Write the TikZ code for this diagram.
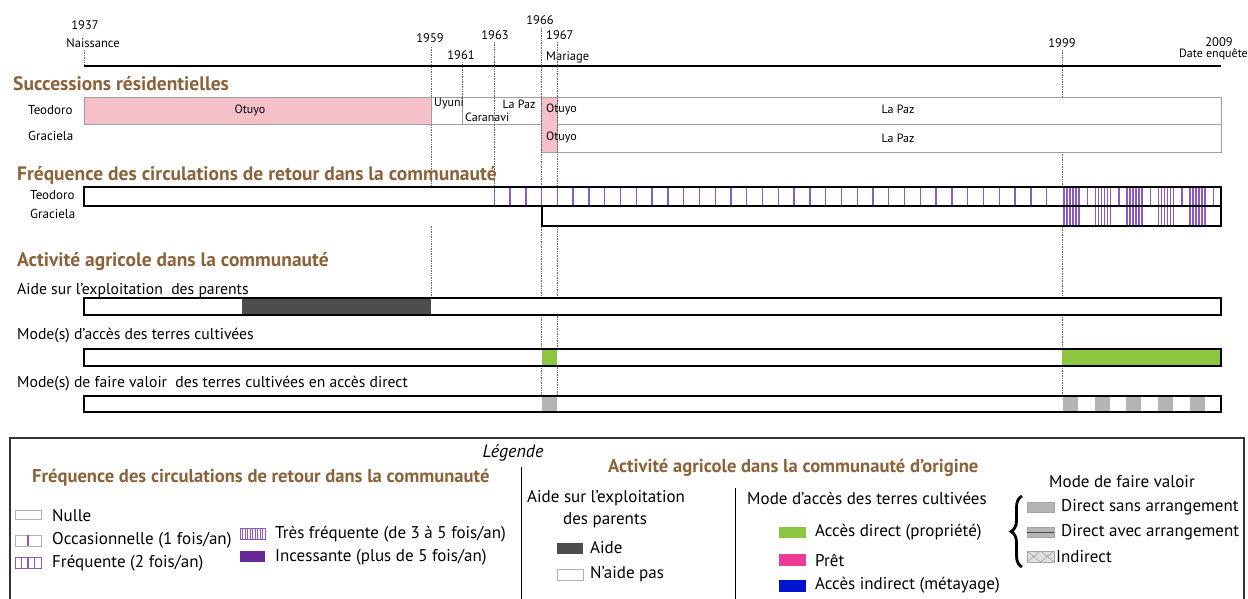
\documentclass[tikz,border=0pt]{standalone}
\usepackage{fontspec}
\setmainfont{PT Sans}
\usepackage{xcolor}
\usetikzlibrary{decorations.pathreplacing}

\definecolor{sectbrown}{RGB}{140,98,58}
\definecolor{residpink}{RGB}{246,192,203}
\definecolor{hatchpurple}{RGB}{140,90,200}
\definecolor{incpurple}{RGB}{104,40,150}
\definecolor{aidegray}{RGB}{77,77,77}
\definecolor{accgreen}{RGB}{141,198,63}
\definecolor{pretpink}{RGB}{238,60,150}
\definecolor{indblue}{RGB}{0,20,205}
\definecolor{fvgray}{RGB}{181,181,181}

% x position of a year on the time axis
\newcommand{\yx}[1]{84+(#1-1937)*15.78}
% one purple hatch stroke: x, top, height
\newcommand{\hstroke}[3]{\fill[hatchpurple] ({#1-0.7},#2) rectangle ++(1.4,#3);}

\begin{document}
\begin{tikzpicture}[x=1pt,y=-1pt,
    yearlbl/.style={font=\fontsize{12.5}{12.5}\selectfont,inner sep=0pt},
    sect/.style={font=\fontsize{19.5}{20}\selectfont\bfseries,text=sectbrown,anchor=west,inner sep=0pt},
    rowlbl/.style={font=\fontsize{13}{13}\selectfont,anchor=west,inner sep=0pt},
    place/.style={font=\fontsize{12}{12}\selectfont,inner sep=0pt},
    sublbl/.style={font=\fontsize{15.7}{16}\selectfont,anchor=west,inner sep=0pt},
    keytxt/.style={font=\fontsize{17}{17}\selectfont,anchor=west,inner sep=0pt},
    keytitle/.style={font=\fontsize{18.6}{19}\selectfont\bfseries,text=sectbrown,anchor=west,inner sep=0pt},
    gridline/.style={densely dotted,gray!80!black,line width=0.7pt},
    resid/.style={draw=gray!75,line width=0.6pt},
    bar/.style={draw=black,line width=1.8pt},
    hatch/.style={draw=hatchpurple,line width=1pt},
    keybox/.style={draw=gray!60,line width=0.6pt}
  ]
    \useasboundingbox (0,0) rectangle (1248,599);

    % time axis
    \coordinate (t0) at (84,66);
    \coordinate (t1) at (1221,66);
    \node[yearlbl] (y37) at (85,25) {1937};
    \node[yearlbl] (birth) at (93,43) {Naissance};
    \node[yearlbl] (y59) at (430,38) {1959};
    \node[yearlbl] (y61) at (461,55) {1961};
    \node[yearlbl] (y63) at (495,35) {1963};
    \node[yearlbl] (y66) at (540,20) {1966};
    \node[yearlbl,anchor=west] (y67) at (546,35) {1967};
    \node[yearlbl,anchor=west] (wed) at (546,57) {Mariage};
    \node[yearlbl] (y99) at (1062,43) {1999};
    \node[yearlbl] (y09) at (1219,42) {2009};
    \node[yearlbl,anchor=east,font=\fontsize{12}{12}\selectfont] (survey) at (1248,54) {Date enquête};

    % dotted year marks
    \draw[gridline] (84,50) -- (t0);
    \draw[gridline] ({\yx{1959}},47) -- ({\yx{1959}},298);
    \draw[gridline] ({\yx{1961}},62) -- ({\yx{1961}},97);
    \draw[gridline] ({\yx{1999}},50) -- ({\yx{1999}},97);
    \draw[gridline] ({\yx{1999}},152) -- ({\yx{1999}},400);
    \draw[line width=2.4pt] (t0) -- (t1);

    % residential successions
    \node[sect] (succ) at (13,84) {Successions résidentielles};
    \node[rowlbl] (teo1) at (28,110) {Teodoro};
    \node[rowlbl] (gra1) at (28,136) {Graciela};
    \draw[resid,fill=white] (84,97) rectangle (1221,124);
    \draw[resid,fill=white] ({\yx{1966}},124) rectangle (1221,152);
    \draw[resid,fill=residpink] (84,97) rectangle ({\yx{1959}},124);
    \draw[resid,fill=residpink] ({\yx{1966}},97) rectangle ({\yx{1967}},152);
    \draw[resid] ({\yx{1961}},97) -- ({\yx{1961}},124);
    \draw[gridline] ({\yx{1963}},42) -- ({\yx{1963}},187);
    \draw[gridline] ({\yx{1966}},28) -- ({\yx{1966}},412);
    \draw[gridline] ({\yx{1967}},42) -- ({\yx{1967}},412);
    \node[place] (otuyo1) at (250,110) {Otuyo};
    \node[place,anchor=west] (uyuni) at (434,103) {Uyuni};
    \node[place,anchor=west] (carn) at (465,117) {Caranavi};
    \node[place] (lapaz1) at (519,104) {La Paz};
    \node[place,anchor=west] (otuyo2) at (546,109) {Otuyo};
    \node[place] (lapaz2) at (898,109) {La Paz};
    \node[place,anchor=west] (otuyo3) at (546,137) {Otuyo};
    \node[place] (lapaz3) at (898,138) {La Paz};

    % return frequency
    \node[sect] (freq) at (17,175) {Fréquence des circulations de retour dans la communauté};
    \node[rowlbl] (teo2) at (30,195) {Teodoro};
    \node[rowlbl] (gra2) at (30,214) {Graciela};
    \fill[white] (84,187) rectangle (1221,226);
    \foreach \yr in {1963,...,1998} {
      \hstroke{\yx{\yr}}{187}{19}
    }
    \foreach \k in {0,...,4} {
      \foreach \d in {1.5,4.5,7.5,10.5,13.5,16.5} {
        \hstroke{\yx{1999}+\k*31.56+\d}{187}{39}
      }
      \hstroke{\yx{1999}+\k*31.56+25}{187}{19}
    }
    \draw[bar] (84,187) rectangle (1221,206);
    \draw[bar] ({\yx{1966}},206) -- ({\yx{1966}},226) -- (1221,226) -- (1221,206);

    % farming activity
    \node[sect] (agri) at (17,262) {Activité agricole dans la communauté};
    \node[sublbl] (aide) at (17,290) {Aide sur l’exploitation\ \ des parents};
    \fill[white] (84,298) rectangle (1221,315);
    \fill[aidegray] ({\yx{1947}},298) rectangle ({\yx{1959}},315);
    \draw[bar] (84,298) rectangle (1221,315);

    \node[sublbl] (acces) at (17,336) {Mode(s) d'accès des terres cultivées};
    \fill[white] (84,349) rectangle (1221,366);
    \fill[accgreen] ({\yx{1966}},349) rectangle ({\yx{1967}},366);
    \fill[accgreen] ({\yx{1999}},349) rectangle (1221,366);
    \draw[bar] (84,349) rectangle (1221,366);

    \node[sublbl] (fv) at (17,384) {Mode(s) de faire valoir\ \ des terres cultivées en accès direct};
    \fill[white] (84,396) rectangle (1221,412);
    \fill[fvgray] ({\yx{1966}},396) rectangle ({\yx{1967}},412);
    \foreach \k in {0,...,4}
      \fill[fvgray] ({\yx{1999}+\k*31.56+1},396) rectangle ++(15,16);
    \draw[bar] (84,396) rectangle (1221,412);

    % legend
    \draw[draw=gray!40!black,line width=1.2pt] (10,612) -- (10,438) -- (1244,438) -- (1244,612);
    \node[keytxt,anchor=center,font=\fontsize{18}{18}\selectfont\itshape] (leg) at (513,453) {Légende};
    \draw[line width=0.7pt] (521,467) -- (521,612);
    \draw[line width=0.7pt] (735,488) -- (735,612);

    \node[keytitle] (kfreq) at (32,478) {Fréquence des circulations de retour dans la communauté};
    \draw[keybox] (15,510) rectangle (41,519);
    \node[keytxt] (knul) at (52,516) {Nulle};
    \draw[keybox] (15,535) rectangle (41,546);
    \hstroke{28}{535}{11}
    \node[keytxt] (kocc) at (52,540) {Occasionnelle (1 fois/an)};
    \draw[hatch] (15,557) rectangle (41,568);
    \foreach \d in {21.5,28,34.5} {
      \hstroke{\d}{557}{11}
    }
    \node[keytxt] (kfrq) at (52,563) {Fréquente (2 fois/an)};
    \draw[hatch] (240,528) rectangle (265,539);
    \foreach \d in {242.5,245,...,263}
      \draw[hatch,line width=0.8pt] (\d,528) -- (\d,539);
    \node[keytxt] (ktres) at (275,534) {Très fréquente (de 3 à 5 fois/an)};
    \fill[incpurple] (240,551) rectangle (265,562);
    \node[keytxt] (kinc) at (275,557) {Incessante (plus de 5 fois/an)};

    \node[keytitle] (kagri) at (608,468) {Activité agricole dans la communauté d’origine};
    \node[keytxt] (kaide) at (527,498) {Aide sur l'exploitation};
    \node[keytxt] (kpar) at (563,520) {des parents};
    \fill[aidegray] (557,543) rectangle (583,554);
    \node[keytxt] (kaid) at (590,548) {Aide};
    \draw[keybox] (557,569) rectangle (583,580);
    \node[keytxt] (knaid) at (590,574) {N'aide pas};

    \node[keytxt] (kacc) at (747,498) {Mode d'accès des terres cultivées};
    \fill[accgreen] (779,527) rectangle (806,538);
    \node[keytxt] (kdir) at (815,532) {Accès direct (propriété)};
    \fill[pretpink] (779,554) rectangle (806,566);
    \node[keytxt] (kpret) at (815,560) {Prêt};
    \fill[indblue] (779,580) rectangle (806,592);
    \node[keytxt] (kind) at (815,585) {Accès indirect (métayage)};

    \node[keytxt] (kfv) at (1049,482) {Mode de faire valoir};
    \draw[decorate,decoration={brace,amplitude=11pt},line width=2.8pt]
      (1022,567) -- (1022,496);
    \draw[fill=fvgray,draw=gray!70] (1027,502) rectangle (1054,512);
    \node[keytxt] (ksans) at (1061,507) {Direct sans arrangement};
    \draw[fill=fvgray,draw=gray!70] (1027,527) rectangle (1054,537);
    \draw[gray!55!black,line width=0.6pt] (1027,532) -- (1054,532);
    \node[keytxt] (kavec) at (1061,532) {Direct avec arrangement};
    \draw[fill=gray!25,draw=gray!70] (1027,551) rectangle (1054,562);
    \draw[gray!70,line width=0.6pt] (1027,551) -- (1040.5,562) (1027,562) -- (1040.5,551)
      (1040.5,551) -- (1054,562) (1040.5,562) -- (1054,551);
    \node[keytxt] (kindir) at (1056,557) {Indirect};
\end{tikzpicture}
\end{document}
